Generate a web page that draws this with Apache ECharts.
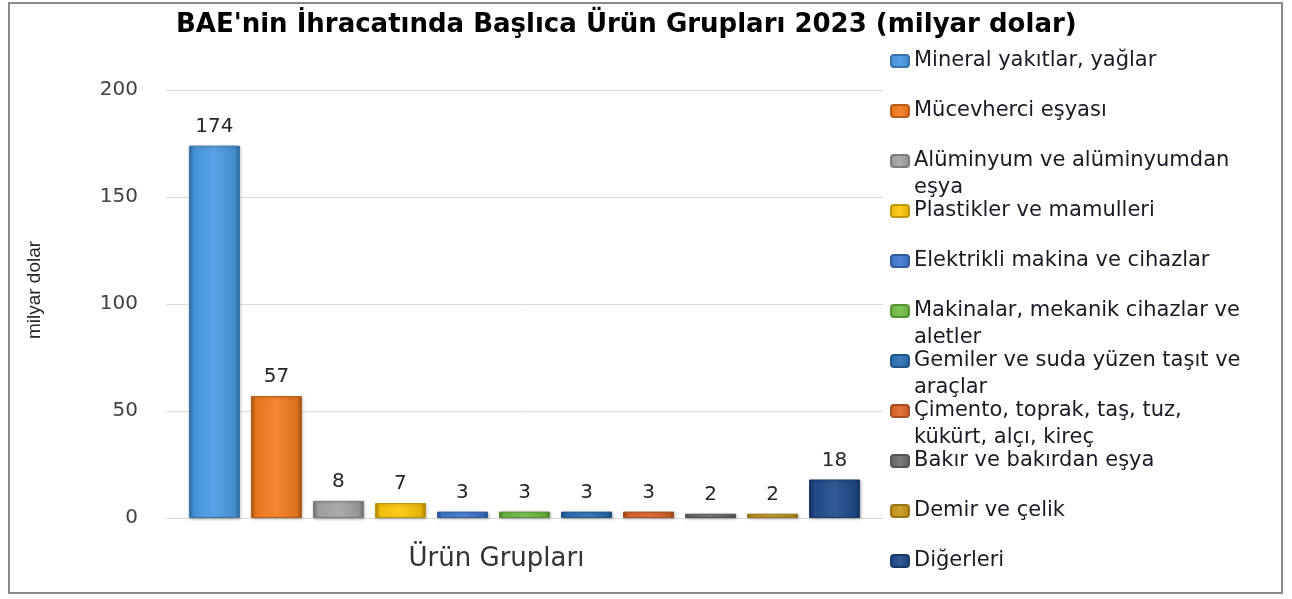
<!DOCTYPE html>
<html>
<head>
<meta charset="utf-8">
<script src="https://cdn.jsdelivr.net/npm/echarts@6/dist/echarts.min.js"></script>
<style>
  html, body { margin: 0; padding: 0; background: #fff; }
  #chart { width: 1292px; height: 599px; }
</style>
</head>
<body>
<div id="chart"></div>
<script>
// ürün grupları (tek kategori, her ürün ayrı seri)
var categories = ['Ürün Grupları'];
var productNames = [
  'Mineral yakıtlar, yağlar',
  'Mücevherci eşyası',
  'Alüminyum ve alüminyumdan eşya',
  'Plastikler ve mamulleri',
  'Elektrikli makina ve cihazlar',
  'Makinalar, mekanik cihazlar ve aletler',
  'Gemiler ve suda yüzen taşıt ve araçlar',
  'Çimento, toprak, taş, tuz, kükürt, alçı, kireç',
  'Bakır ve bakırdan eşya',
  'Demir ve çelik',
  'Diğerleri'
];
// legend satırları (kırılmış hali)
var legendLines = [
  ['Mineral yakıtlar, yağlar'],
  ['Mücevherci eşyası'],
  ['Alüminyum ve alüminyumdan', 'eşya'],
  ['Plastikler ve mamulleri'],
  ['Elektrikli makina ve cihazlar'],
  ['Makinalar, mekanik cihazlar ve', 'aletler'],
  ['Gemiler ve suda yüzen taşıt ve', 'araçlar'],
  ['Çimento, toprak, taş, tuz,', 'kükürt, alçı, kireç'],
  ['Bakır ve bakırdan eşya'],
  ['Demir ve çelik'],
  ['Diğerleri']
];
var exportValues = [174, 57, 8, 7, 3, 3, 3, 3, 2, 2, 18];
var barColors = ['#4a9be3', '#f47c20', '#a5a5a5', '#fcc70a', '#4379d2', '#74c047',
  '#2d72b6', '#df672b', '#6f6f6f', '#c99a1b', '#214c8c'];

function shade(hex, f) {
  var n = parseInt(hex.slice(1), 16);
  var r = (n >> 16) & 255, g = (n >> 8) & 255, b = n & 255;
  function c(v) {
    v = f < 0 ? v * (1 + f) : v + (255 - v) * f;
    return Math.round(Math.max(0, Math.min(255, v)));
  }
  return 'rgb(' + c(r) + ',' + c(g) + ',' + c(b) + ')';
}

function barGradient(hex) {
  return new echarts.graphic.LinearGradient(0, 0, 1, 0, [
    {offset: 0, color: shade(hex, -0.3)},
    {offset: 0.1, color: shade(hex, -0.05)},
    {offset: 0.5, color: shade(hex, 0.08)},
    {offset: 0.9, color: shade(hex, -0.1)},
    {offset: 1, color: shade(hex, -0.35)}
  ]);
}

var chart = echarts.init(document.getElementById('chart'));

var LH = 27;
var legends = productNames.map(function (name, i) {
  var lines = legendLines[i];
  // çok satırlı öğelerde ikon ilk satıra hizalansın diye boş satır ekleniyor
  var text = lines.length > 1 ? '\u200b\n' + lines.join('\n') : lines[0];
  var n = lines.length > 1 ? 3 : 1;
  var center = 61 + 50 * i;
  return {
    data: [name],
    left: 890,
    top: center - n * LH / 2,
    padding: 0,
    itemWidth: 18,
    itemHeight: 12,
    selectedMode: false,
    formatter: function () { return text; },
    textStyle: {
      fontFamily: 'DejaVu Sans',
      fontSize: 21,
      color: '#1a1a24',
      lineHeight: LH
    }
  };
});

var series = productNames.map(function (name, i) {
  return {
    name: name,
    type: 'bar',
    data: [exportValues[i]],
    barWidth: 51,
    barGap: '21.6%',
    itemStyle: {
      color: barGradient(barColors[i]),
      borderColor: shade(barColors[i], -0.25),
      borderWidth: 1,
      shadowColor: 'rgba(0,0,0,0.25)',
      shadowBlur: 3,
      shadowOffsetX: 1,
      shadowOffsetY: 1
    },
    label: {
      show: true,
      position: 'top',
      distance: 9,
      fontFamily: 'DejaVu Sans',
      fontSize: 20,
      color: '#262626'
    }
  };
});

var option = {
  animation: false,
  backgroundColor: '#fff',
  title: {
    text: "BAE'nin İhracatında Başlıca Ürün Grupları 2023 (milyar dolar)",
    left: 176,
    top: 12,
    padding: 0,
    textStyle: {
      fontFamily: 'DejaVu Sans',
      fontWeight: 'bold',
      fontSize: 26,
      color: '#000'
    }
  },
  graphic: [{
    type: 'rect',
    shape: {x: 9, y: 3, width: 1273, height: 590},
    style: {fill: 'none', stroke: '#8a8a8a', lineWidth: 2}
  }],
  legend: legends,
  grid: {left: 166, right: 409, top: 90, bottom: 81},
  xAxis: {
    type: 'category',
    data: categories,
    axisLine: {lineStyle: {color: '#d9d9d9'}},
    axisTick: {show: false},
    axisLabel: {
      margin: 28,
      padding: [0, 56, 0, 0],
      fontFamily: 'DejaVu Sans',
      fontSize: 26,
      color: '#333'
    }
  },
  yAxis: {
    type: 'value',
    min: 0,
    max: 200,
    interval: 50,
    name: 'milyar dolar',
    nameLocation: 'middle',
    nameRotate: 90,
    nameGap: 122,
    nameTextStyle: {
      fontFamily: 'Liberation Sans',
      fontSize: 19,
      color: '#262626',
      padding: [0, 0, 0, 28]
    },
    axisLine: {show: false},
    axisTick: {show: false},
    axisLabel: {
      margin: 28,
      fontFamily: 'DejaVu Sans',
      fontSize: 20,
      color: '#404040'
    },
    splitLine: {lineStyle: {color: '#dcdcdc'}}
  },
  series: series
};

chart.setOption(option);
</script>
</body>
</html>
